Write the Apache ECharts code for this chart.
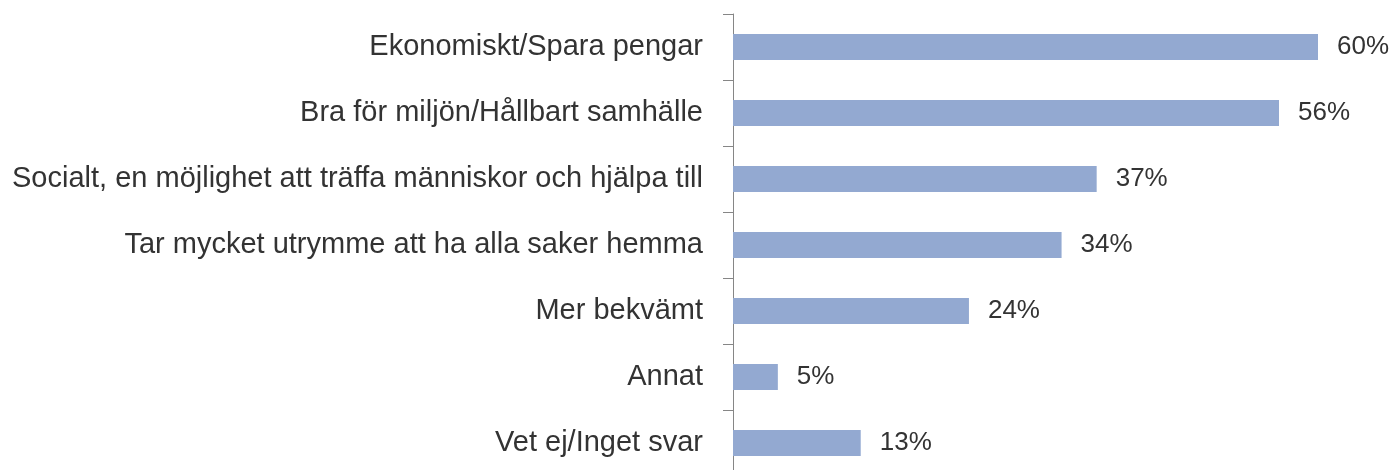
<!DOCTYPE html>
<html>
<head>
<meta charset="utf-8">
<script src="https://cdn.jsdelivr.net/npm/echarts@6/dist/echarts.min.js"></script>
<style>
  html, body { margin: 0; padding: 0; background: #fff; }
  #main { width: 1395px; height: 470px; }
</style>
</head>
<body>
<div id="main"></div>
<script>
var categories = [
    'Ekonomiskt/Spara pengar',
    'Bra för miljön/Hållbart samhälle',
    'Socialt, en möjlighet att träffa människor och hjälpa till',
    'Tar mycket utrymme att ha alla saker hemma',
    'Mer bekvämt',
    'Annat',
    'Vet ej/Inget svar'
];
// andel svarande (%)
var values = [60, 56, 37.3, 33.7, 24.2, 4.6, 13.1];

var chart = echarts.init(document.getElementById('main'));

var option = {
    animation: false,
    grid: {
        left: 733,
        top: 14,
        width: 643.5,
        height: 462,
        outerBoundsMode: 'none',
        containLabel: false
    },
    xAxis: {
        type: 'value',
        min: 0,
        max: 66,
        show: false
    },
    yAxis: {
        type: 'category',
        data: categories,
        inverse: true,
        axisLine: { show: true, lineStyle: { color: '#868686', width: 1 } },
        axisTick: { show: true, length: 10, interval: 0, lineStyle: { color: '#868686' } },
        axisLabel: {
            margin: 30,
            fontSize: 29,
            fontFamily: 'Liberation Sans',
            color: '#333333'
        }
    },
    series: [{
        type: 'bar',
        data: values,
        barWidth: 26,
        itemStyle: { color: '#93a9d1' },
        label: {
            show: true,
            position: 'right',
            distance: 19,
            fontSize: 26,
            fontFamily: 'Liberation Sans',
            color: '#333333',
            formatter: function (p) {
                return Math.round(p.value) + '%';
            }
        }
    }]
};

chart.setOption(option);
</script>
</body>
</html>
